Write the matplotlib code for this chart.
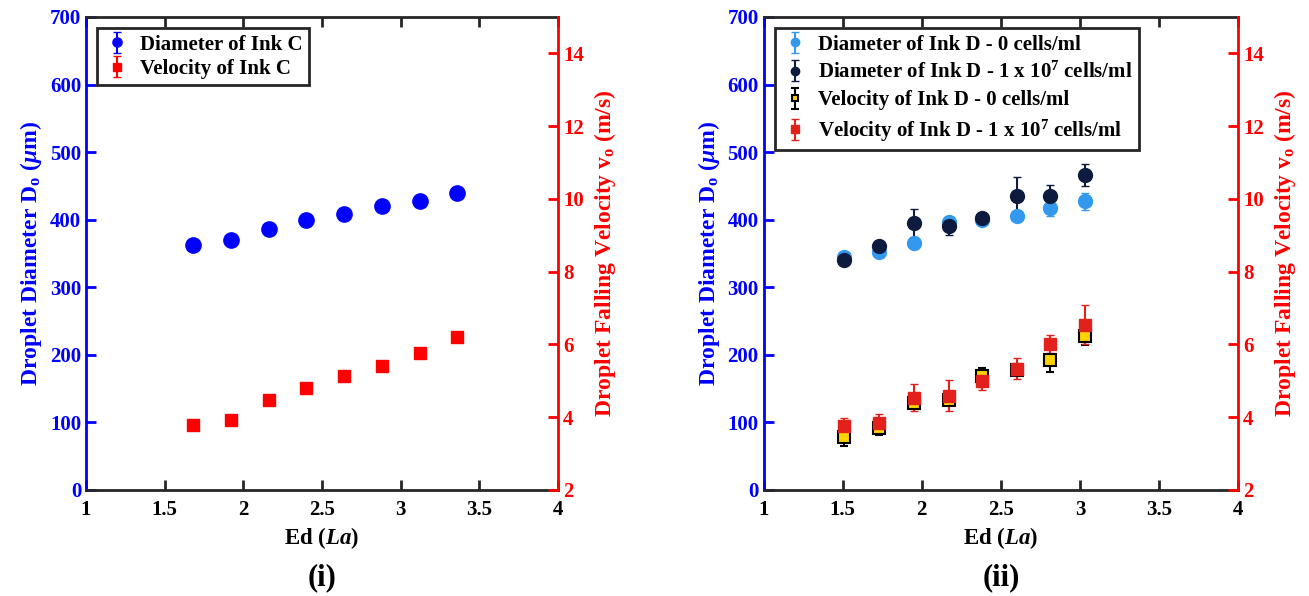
import matplotlib.pyplot as plt

plt.rcParams['font.family'] = 'Liberation Serif'
plt.rcParams['font.weight'] = 'bold'
plt.rcParams['mathtext.fontset'] = 'custom'
plt.rcParams['mathtext.rm'] = 'Liberation Serif:bold'
plt.rcParams['mathtext.it'] = 'Liberation Serif:italic:bold'
plt.rcParams['mathtext.bf'] = 'Liberation Serif:bold'

# Ink C
ed_c = [1.68, 1.92, 2.16, 2.40, 2.64, 2.88, 3.12, 3.36]
dia_c = [362, 370, 386, 400, 408, 421, 427, 439]
vel_c = [3.79, 3.93, 4.47, 4.80, 5.12, 5.41, 5.77, 6.20]

# Ink D, with and without cells
ed_d = [1.51, 1.73, 1.95, 2.17, 2.38, 2.60, 2.81, 3.03]
dia_d0 = [345, 352, 366, 397, 399, 406, 418, 427]
dia_d0_err = [3, 3, 4, 7, 4, 5, 13, 13]
dia_d7 = [340, 361, 395, 391, 403, 435, 435, 466]
dia_d7_err = [4, 5, 21, 13, 5, 28, 17, 16]
vel_d0 = [3.46, 3.70, 4.40, 4.47, 5.13, 5.30, 5.56, 6.24]
vel_d0_err = [0.25, 0.18, 0.12, 0.14, 0.21, 0.15, 0.32, 0.25]
vel_d7 = [3.77, 3.85, 4.54, 4.59, 5.00, 5.33, 6.01, 6.54]
vel_d7_err = [0.22, 0.25, 0.38, 0.43, 0.24, 0.29, 0.24, 0.54]

fs = 15       # tick labels
lfs = 17      # axis labels
gfs = 15      # legend


def style_axes(ax, ax2):
    ax.set_xlim(1, 4)
    ax.set_ylim(0, 700)
    ax2.set_ylim(2, 15)
    ax.set_xticks([1, 1.5, 2, 2.5, 3, 3.5, 4])
    ax.set_xticklabels(['1', '1.5', '2', '2.5', '3', '3.5', '4'])
    ax2.set_yticks([2, 4, 6, 8, 10, 12, 14])
    for s in ['top', 'bottom']:
        ax.spines[s].set_color('#262626')
        ax.spines[s].set_linewidth(2)
        ax2.spines[s].set_visible(False)
    ax.spines['left'].set_color('blue')
    ax.spines['left'].set_linewidth(2)
    ax.spines['right'].set_visible(False)
    ax2.spines['left'].set_visible(False)
    ax2.spines['right'].set_color('red')
    ax2.spines['right'].set_linewidth(2)
    ax.tick_params(axis='x', direction='in', top=True, length=7, width=2,
                   color='#262626', labelsize=fs, pad=7)
    ax.tick_params(axis='y', direction='in', length=7, width=2,
                   color='blue', labelcolor='blue', labelsize=fs)
    ax2.tick_params(axis='y', direction='in', length=7, width=2,
                    color='red', labelcolor='red', labelsize=fs)
    ax.set_xlabel('Ed ($\\mathit{La}$)', fontsize=lfs - 0.5,
                  fontweight='bold', labelpad=4)
    ax.set_ylabel('Droplet Diameter D$_\\mathregular{o}$ ($\\mathit{\\mu}$m)',
                  color='blue', fontsize=lfs, fontweight='bold', labelpad=4)
    ax2.set_ylabel('Droplet Falling Velocity v$_\\mathregular{o}$ (m/s)',
                   color='red', fontsize=lfs, fontweight='bold', labelpad=6)


def add_legend(ax2, handles, spacing):
    leg = ax2.legend(handles=handles, loc='upper left', fontsize=gfs,
                     fancybox=False, edgecolor='#262626', framealpha=1,
                     borderaxespad=0.55, handletextpad=0.45, borderpad=0.3,
                     labelspacing=spacing, handlelength=1.3, markerscale=0.6)
    leg.get_frame().set_linewidth(2)


fig = plt.figure(figsize=(13.09, 5.96), dpi=100)

# panel (i)
ax = fig.add_axes([0.0657, 0.1779, 0.3606, 0.7936])
ax2 = ax.twinx()
h1 = ax.errorbar(ed_c, dia_c, yerr=[0] * len(ed_c), fmt='o', color='blue',
                 ms=11, capsize=3, elinewidth=1.5, label='Diameter of Ink C')
h2 = ax2.errorbar(ed_c, vel_c, yerr=[0] * len(ed_c), fmt='s', color='red',
                  ms=9, capsize=3, elinewidth=1.5, label='Velocity of Ink C')
style_axes(ax, ax2)
add_legend(ax2, [h1, h2], 0.2)
fig.text(0.0657 + 0.3606 / 2, 0.018, '(i)', ha='center', fontsize=22,
         fontweight='bold')

# panel (ii)
bx = fig.add_axes([0.5833, 0.1779, 0.3627, 0.7936])
bx2 = bx.twinx()
g1 = bx.errorbar(ed_d, dia_d0, yerr=dia_d0_err, fmt='o', color='#3399ee',
                 ms=10, capsize=3, elinewidth=1.5,
                 label='Diameter of Ink D - 0 cells/ml')
g2 = bx.errorbar(ed_d, dia_d7, yerr=dia_d7_err, fmt='o', color='#0d1b3e',
                 ms=10, capsize=3, elinewidth=1.5,
                 label='Diameter of Ink D - 1 x 10$^\\mathregular{7}$ cells/ml')
g3 = bx2.errorbar(ed_d, vel_d0, yerr=vel_d0_err, fmt='s', color='black',
                  mfc='#ffd200', mec='black', mew=1.5, ms=8, capsize=3,
                  elinewidth=1.5, label='Velocity of Ink D - 0 cells/ml')
g4 = bx2.errorbar(ed_d, vel_d7, yerr=vel_d7_err, fmt='s', color='#e3211c',
                  ms=9, capsize=3, elinewidth=1.5,
                  label='Velocity of Ink D - 1 x 10$^\\mathregular{7}$ cells/ml')
style_axes(bx, bx2)
add_legend(bx2, [g1, g2, g3, g4], 0.35)
fig.text(0.5833 + 0.3627 / 2, 0.018, '(ii)', ha='center', fontsize=22,
         fontweight='bold')

fig.savefig('out.png', dpi=100)
